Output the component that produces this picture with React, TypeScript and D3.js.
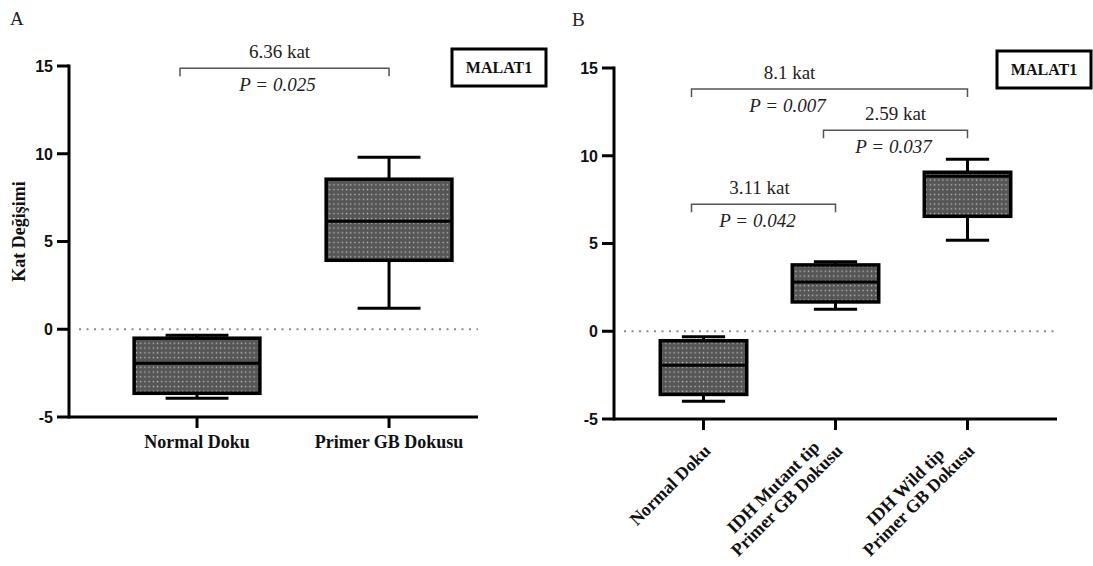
import React from 'react';
import * as d3 from 'd3';

// ---------- DATA ----------
const yTicks = [-5, 0, 5, 10, 15];

const panelACategories = ['Normal Doku', 'Primer GB Dokusu'];
const panelAMin = [-3.93, 1.2];
const panelAQ1 = [-3.65, 3.93];
const panelAMedian = [-1.94, 6.15];
const panelAQ3 = [-0.51, 8.55];
const panelAMax = [-0.34, 9.8];
const panelABracketFrom = ['Normal Doku'];
const panelABracketTo = ['Primer GB Dokusu'];
const panelABracketLevel = [14.87];
const panelABracketFold = ['6.36 kat'];
const panelABracketP = ['P = 0.025'];

const panelBCategories = ['Normal Doku', 'IDH Mutant tip\nPrimer GB Dokusu', 'IDH Wild tip\nPrimer GB Dokusu'];
const panelBMin = [-3.99, 1.26, 5.19];
const panelBQ1 = [-3.6, 1.67, 6.55];
const panelBMedian = [-1.94, 2.81, 8.83];
const panelBQ3 = [-0.54, 3.78, 9.06];
const panelBMax = [-0.31, 3.96, 9.8];
const panelBBracketFrom = ['Normal Doku', 'IDH Mutant tip\nPrimer GB Dokusu', 'Normal Doku'];
const panelBBracketTo = ['IDH Wild tip\nPrimer GB Dokusu', 'IDH Wild tip\nPrimer GB Dokusu', 'IDH Mutant tip\nPrimer GB Dokusu'];
const panelBBracketLevel = [13.8, 11.45, 7.24];
const panelBBracketFold = ['8.1 kat', '2.59 kat', '3.11 kat'];
const panelBBracketP = ['P = 0.007', 'P = 0.037', 'P = 0.042'];

const geneLabel = 'MALAT1';
const yAxisTitle = 'Kat Değişimi';

// ---------- STYLE / LAYOUT ----------
const SERIF = '"Liberation Serif", "Times New Roman", serif';
const SANS = '"Liberation Sans", Arial, sans-serif';
const LABEL_SIZE = 18;

let measureCtx: CanvasRenderingContext2D | null = null;
function textWidth(s: string): number {
  if (!measureCtx) {
    const c = document.createElement('canvas');
    measureCtx = c.getContext('2d');
  }
  if (!measureCtx) return s.length * LABEL_SIZE * 0.5;
  measureCtx.font = `bold ${LABEL_SIZE}px "Liberation Serif", "Times New Roman", serif`;
  return measureCtx.measureText(s).width;
}

type PanelProps = {
  letter: string;
  letterX: number;
  letterY: number;
  axisX: number;
  axisEnd: number;
  yTopPx: number;
  yBottomPx: number;
  categories: string[];
  mins: number[];
  q1s: number[];
  medians: number[];
  q3s: number[];
  maxs: number[];
  padding: number;
  align: number;
  bFrom: string[];
  bTo: string[];
  bLevel: number[];
  bFold: string[];
  bP: string[];
  bInset: number;
  bTextDx: number[];
  rotated: boolean;
  showTitle: boolean;
};

function Panel(p: PanelProps) {
  const y = d3.scaleLinear().domain([-5, 15]).range([p.yBottomPx, p.yTopPx]);
  const x = d3
    .scalePoint<string>()
    .domain(p.categories)
    .range([p.axisX, p.axisEnd])
    .padding(p.padding)
    .align(p.align);
  const step = x.step();
  const boxW = step * 0.655;
  const capW = boxW / 2;
  const sw = 3;

  return (
    <g>
      <text x={p.letterX} y={p.letterY} fontFamily={SERIF} fontSize={19} fill="#222">
        {p.letter}
      </text>

      {/* zero line */}
      <line
        x1={p.axisX + 10}
        x2={p.axisEnd}
        y1={y(0)}
        y2={y(0)}
        stroke="#8a8a8a"
        strokeWidth={2}
        strokeDasharray="2,5.5"
      />

      {/* boxes */}
      {p.categories.map((c, i) => {
        const cx = x(c)!;
        return (
          <g key={c}>
            <line x1={cx} x2={cx} y1={y(p.maxs[i])} y2={y(p.q3s[i])} stroke="#000" strokeWidth={sw} />
            <line x1={cx} x2={cx} y1={y(p.q1s[i])} y2={y(p.mins[i])} stroke="#000" strokeWidth={sw} />
            <line x1={cx - capW / 2} x2={cx + capW / 2} y1={y(p.maxs[i])} y2={y(p.maxs[i])} stroke="#000" strokeWidth={sw} />
            <line x1={cx - capW / 2} x2={cx + capW / 2} y1={y(p.mins[i])} y2={y(p.mins[i])} stroke="#000" strokeWidth={sw} />
            <rect
              x={cx - boxW / 2}
              y={y(p.q3s[i])}
              width={boxW}
              height={y(p.q1s[i]) - y(p.q3s[i])}
              fill="url(#dots)"
              stroke="#000"
              strokeWidth={sw + 0.5}
            />
            <line
              x1={cx - boxW / 2}
              x2={cx + boxW / 2}
              y1={y(p.medians[i])}
              y2={y(p.medians[i])}
              stroke="#000"
              strokeWidth={sw}
            />
          </g>
        );
      })}

      {/* y axis */}
      <line x1={p.axisX} x2={p.axisX} y1={y(15) - 1.5} y2={y(-5) + 1.5} stroke="#000" strokeWidth={sw} />
      {yTicks.map((t) => (
        <g key={t}>
          <line x1={p.axisX - 12} x2={p.axisX} y1={y(t)} y2={y(t)} stroke="#000" strokeWidth={sw} />
          <text
            x={p.axisX - 16}
            y={y(t)}
            dy="0.36em"
            textAnchor="end"
            fontFamily={SANS}
            fontWeight="bold"
            fontSize={16}
            fill="#111"
          >
            {t}
          </text>
        </g>
      ))}
      {/* x axis */}
      <line x1={p.axisX} x2={p.axisEnd} y1={y(-5)} y2={y(-5)} stroke="#000" strokeWidth={sw} />
      {p.categories.map((c) => {
        const cx = x(c)!;
        const lines = c.split('\n');
        const last = lines[lines.length - 1];
        const lastW = textWidth(last);
        return (
          <g key={'t' + c}>
            <line x1={cx} x2={cx} y1={y(-5)} y2={y(-5) + 11} stroke="#000" strokeWidth={sw} />
            {p.rotated ? (
              <g transform={`translate(${cx + 8},${y(-5) + 33}) rotate(-45)`}>
                {lines.map((l, k) => {
                  const isLast = k === lines.length - 1;
                  return (
                    <text
                      key={k}
                      x={isLast ? 0 : -lastW / 2}
                      y={(k - (lines.length - 1)) * 19}
                      textAnchor={isLast ? 'end' : 'middle'}
                      fontFamily={SERIF}
                      fontWeight="bold"
                      fontSize={LABEL_SIZE}
                      fill="#111"
                    >
                      {l}
                    </text>
                  );
                })}
              </g>
            ) : (
              <text
                x={cx}
                y={y(-5) + 31}
                textAnchor="middle"
                fontFamily={SERIF}
                fontWeight="bold"
                fontSize={LABEL_SIZE}
                fill="#111"
              >
                {c}
              </text>
            )}
          </g>
        );
      })}

      {p.showTitle && (
        <text
          transform={`translate(25,${(y(15) + y(-5)) / 2 - 10}) rotate(-90)`}
          textAnchor="middle"
          fontFamily={SERIF}
          fontWeight="bold"
          fontSize={18}
          fill="#111"
        >
          {yAxisTitle}
        </text>
      )}

      {/* brackets */}
      {p.bFrom.map((f, i) => {
        const x1 = x(f)! - p.bInset;
        const x2 = x(p.bTo[i])!;
        const by = y(p.bLevel[i]);
        const mid = (x1 + x2) / 2 + p.bTextDx[i];
        return (
          <g key={'b' + i}>
            <path
              d={`M${x1},${by + 8}V${by}H${x2}V${by + 8}`}
              fill="none"
              stroke="#555"
              strokeWidth={1.5}
            />
            <text x={mid} y={by - 10} textAnchor="middle" fontFamily={SERIF} fontSize={19} fill="#222">
              {p.bFold[i]}
            </text>
            <text
              x={mid - 2}
              y={by + 23}
              textAnchor="middle"
              fontFamily={SERIF}
              fontStyle="italic"
              fontSize={19}
              fill="#222"
            >
              {p.bP[i]}
            </text>
          </g>
        );
      })}

      {/* gene box */}
      <rect
        x={p.axisX + 383}
        y={y(15) - 17}
        width={94}
        height={37}
        fill="#fff"
        stroke="#000"
        strokeWidth={3}
      />
      <text
        x={p.axisX + 383 + 47}
        y={y(15) + 1.5}
        dy="0.35em"
        textAnchor="middle"
        fontFamily={SERIF}
        fontWeight="bold"
        fontSize={16}
        fill="#111"
      >
        {geneLabel}
      </text>
    </g>
  );
}

export default function App() {
  return (
    <svg
      width={1093}
      height={566}
      style={{ position: 'absolute', left: 0, top: 0, background: '#fff' }}
    >
      <defs>
        <pattern id="dots" patternUnits="userSpaceOnUse" width={4.2} height={4.8}>
          <rect width={4.2} height={4.8} fill="#565656" />
          <rect x={1.5} y={1.8} width={1.3} height={1.3} fill="#c4c4c4" />
        </pattern>
      </defs>
      <rect width={1093} height={566} fill="#fff" />
      <Panel
        letter="A"
        letterX={10}
        letterY={25}
        axisX={69}
        axisEnd={478}
        yTopPx={66}
        yBottomPx={417}
        categories={panelACategories}
        mins={panelAMin}
        q1s={panelAQ1}
        medians={panelAMedian}
        q3s={panelAQ3}
        maxs={panelAMax}
        padding={0.565}
        align={0.59}
        bFrom={panelABracketFrom}
        bTo={panelABracketTo}
        bLevel={panelABracketLevel}
        bFold={panelABracketFold}
        bP={panelABracketP}
        bInset={17}
        bTextDx={[-5]}
        rotated={false}
        showTitle={true}
      />
      <Panel
        letter="B"
        letterX={572}
        letterY={26}
        axisX={614}
        axisEnd={1057}
        yTopPx={68}
        yBottomPx={419}
        categories={panelBCategories}
        mins={panelBMin}
        q1s={panelBQ1}
        medians={panelBMedian}
        q3s={panelBQ3}
        maxs={panelBMax}
        padding={0.678}
        align={0.5}
        bFrom={panelBBracketFrom}
        bTo={panelBBracketTo}
        bLevel={panelBBracketLevel}
        bFold={panelBBracketFold}
        bP={panelBBracketP}
        bInset={12}
        bTextDx={[-40, 0, -4]}
        rotated={true}
        showTitle={false}
      />
    </svg>
  );
}
